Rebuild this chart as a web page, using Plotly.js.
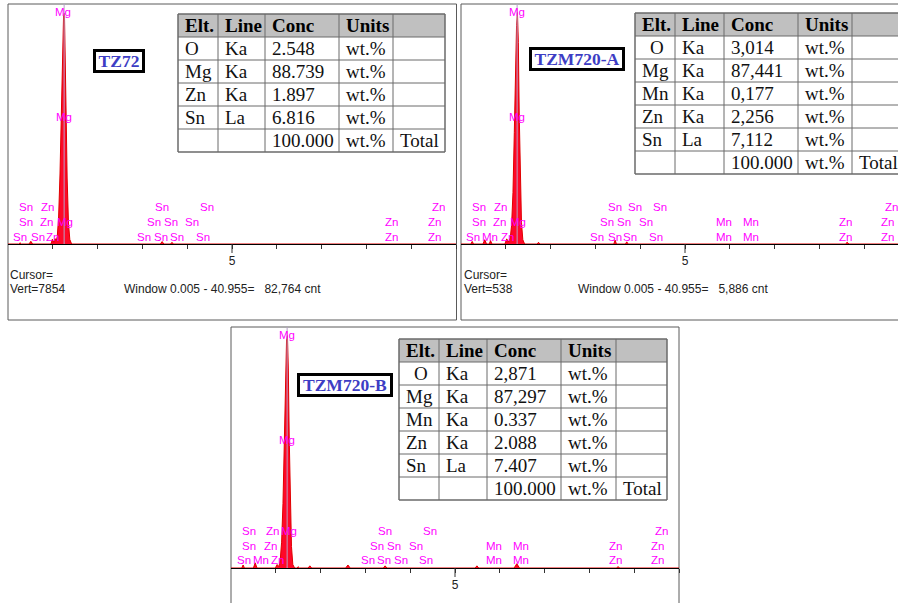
<!DOCTYPE html>
<html><head><meta charset="utf-8">
<script src="https://cdn.plot.ly/plotly-3.0.1.min.js"></script>
<style>html,body{margin:0;padding:0;background:#fff;overflow:hidden}</style>
</head><body><div id="chart" style="width:898px;height:603px"></div>
<script>
// ---------- DATA ----------
const sampleNames = ['TZ72', 'TZM720-A', 'TZM720-B'];

// spectra: energy (keV) and counts
const E1 = [0,0.24,0.27,0.30, 0.47,0.51,0.55, 0.96,0.99,1.02,1.05,1.08, 1.10,1.13,1.16,1.19,1.22,1.24,1.26,1.28,1.30,1.32,1.35,1.38,1.42, 3.40,3.44,3.48, 3.62,3.66,3.70, 10];
const C1 = [0,0,40,0,       0,90,0,          0,160,60,180,120,          250,900,2300,4300,6800,7600,7700,6400,4100,2200,700,150,0,       0,80,0,          0,50,0,          0];

const E2 = [0,0.22,0.25,0.28, 0.49,0.53,0.57, 0.63,0.66,0.69, 0.98,1.02,1.06, 1.10,1.13,1.16,1.19,1.22,1.24,1.26,1.28,1.30,1.32,1.35,1.38,1.42, 1.70,1.73,1.76, 3.41,3.44,3.47, 3.67,3.70,3.73, 8.58,8.62,8.66, 9.754];
const C2 = [0,0,6,0,          0,10,0,         0,8,0,          0,12,5,         14,45,120,260,420,510,540,470,300,160,50,10,0,                      0,4,0,          0,9,0,          0,5,0,          0,4,0,          0];

const E3 = [0,0.24,0.27,0.30, 0.50,0.54,0.58, 0.99,1.03,1.07, 1.10,1.13,1.16,1.19,1.22,1.24,1.26,1.28,1.30,1.32,1.35,1.38,1.42, 1.47,1.50,1.53, 1.72,1.76,1.80, 2.56,2.61,2.66, 3.40,3.44,3.48, 5.45,5.49,5.53, 6.32,6.38,6.44, 8.60,8.64,8.68, 10];
const C3 = [0,0,7,0,          0,12,0,         0,8,3,          20,60,150,300,470,530,540,460,300,160,50,8,0,                              0,3,0,          0,5,0,          0,7,0,          0,5,0,          0,5,0,          0,10,0,         0,3,0,          0];

const yMax = [8000, 560, 560];
const mgLine = 1.253;

// peak identification labels (text, energy keV, stacking row)
const labT1 = ['Mg','Mg','Sn','Zn','Sn','Sn','Zn','Sn','Zn','Mg','Sn','Sn','Sn','Zn','Zn','Sn','Sn','Zn','Sn','Sn','Sn','Sn','Zn','Zn'];
const labE1 = [1.23,1.25,0.40,0.89,3.44,4.44,9.60,0.40,0.87,1.27,3.26,3.64,4.11,8.57,9.51,0.27,0.67,1.00,3.04,3.42,3.77,4.35,8.57,9.51];
const labR1 = ['top','mid',0,0,0,0,0,1,1,1,1,1,1,1,1,2,2,2,2,2,2,2,2,2];

const labT2 = ['Mg','Mg','Sn','Zn','Sn','Sn','Sn','Zn','Sn','Zn','Mg','Sn','Sn','Sn','Mn','Mn','Zn','Zn','Sn','Mn','Zn','Sn','Sn','Sn','Sn','Mn','Mn','Zn','Zn'];
const labE2 = [1.25,1.25,0.40,0.89,3.44,3.88,4.44,9.60,0.40,0.87,1.27,3.26,3.64,4.13,5.87,6.47,8.59,9.53,0.27,0.65,1.03,3.04,3.44,3.77,4.35,5.87,6.47,8.59,9.53];
const labR2 = ['top','mid',0,0,0,0,0,0,1,1,1,1,1,1,1,1,1,1,2,2,2,2,2,2,2,2,2,2,2];

const labT3 = ['Mg','Mg','Sn','Zn','Mg','Sn','Sn','Zn','Sn','Zn','Sn','Sn','Sn','Mn','Mn','Zn','Zn','Sn','Mn','Zn','Sn','Sn','Sn','Sn','Mn','Mn','Zn','Zn'];
const labE3 = [1.25,1.25,0.40,0.92,1.29,3.44,4.44,9.62,0.40,0.89,3.26,3.64,4.13,5.87,6.47,8.59,9.53,0.29,0.67,1.03,3.06,3.42,3.79,4.35,5.87,6.47,8.59,9.53];
const labR3 = ['top','mid',0,0,0,0,0,0,1,1,1,1,1,1,1,1,1,2,2,2,2,2,2,2,2,2,2,2];

// quantification tables
const tabHeader = ['Elt.','Line','Conc','Units',''];
const elt1 = ['O','Mg','Zn','Sn',''];
const line1 = ['Ka','Ka','Ka','La',''];
const conc1 = ['2.548','88.739','1.897','6.816','100.000'];
const elt2 = ['O','Mg','Mn','Zn','Sn',''];
const line2 = ['Ka','Ka','Ka','Ka','La',''];
const conc2 = ['3,014','87,441','0,177','2,256','7,112','100.000'];
const elt3 = ['O','Mg','Mn','Zn','Sn',''];
const line3 = ['Ka','Ka','Ka','Ka','La',''];
const conc3 = ['2,871','87,297','0.337','2.088','7.407','100.000'];

// axis ticks
const tickVals = [1,2,3,4,5,6,7,8,9,10];
const tickText = ['','','','','5','','','','',''];

// footer texts
const cursorText = ['Cursor=', 'Cursor='];
const vertText = ['Vert=7854', 'Vert=538'];
const windowText = ['Window 0.005 - 40.955=\u00a0\u00a0\u00a082,764 cnt', 'Window 0.005 - 40.955=\u00a0\u00a0\u00a05,886 cnt'];

// ---------- LAYOUT (pixels) ----------
const W = 898, H = 603, PPK = 44.8, ROWH = 23;
const px = x => x / W, py = y => 1 - y / H;
const P = [
  {left:8,   right:456, top:4,   base:244, rows:[207,222,237], mgTop:12,  mgMid:117, frame:[8,456.5,4,320],
   table:{x0:178,y0:14}, cw:[40,47,74,54,52], centerO:false, box:{x:119,y:61,w:44}, foot:{x:8,wx:122,y1:275,y2:289}},
  {left:461, right:898, top:4,   base:244, rows:[207,222,237], mgTop:12,  mgMid:117, frame:[461,910,4,320],
   table:{x0:635,y0:13}, cw:[40,49,74,54,60], centerO:true, box:{x:577,y:59,w:88}, foot:{x:462,wx:576,y1:275,y2:289}},
  {left:231, right:679, top:327, base:568, rows:[531,546,560], mgTop:335, mgMid:440, frame:[231,679,327,615],
   table:{x0:399,y0:339}, cw:[40,48,74,55,51], centerO:true, box:{x:345,y:385,w:88}}
];
const spectra = [[E1,C1],[E2,C2],[E3,C3]];
const labels = [[labT1,labE1,labR1],[labT2,labE2,labR2],[labT3,labE3,labR3]];
const tables = [[elt1,line1,conc1],[elt2,line2,conc2],[elt3,line3,conc3]];

const traces = [], shapes = [], annotations = [];
const layout = {width:W, height:H, margin:{l:0,r:0,t:0,b:0}, paper_bgcolor:'#fff', plot_bgcolor:'rgba(0,0,0,0)',
  showlegend:false, autosize:false};
const serif = 'Liberation Serif, Times New Roman, serif';
const sans = 'Liberation Sans, Arial, sans-serif';

P.forEach((p, i) => {
  const n = i === 0 ? '' : String(i + 1);
  const xa = 'x' + n, ya = 'y' + n;
  layout['xaxis' + n] = {domain:[px(p.left), px(p.right)], range:[0, (p.right - p.left) / PPK], anchor:ya,
    showline:true, linecolor:'#000', linewidth:1, ticks:'outside', ticklen:4, tickwidth:1, tickcolor:'#333',
    tickmode:'array', tickvals:tickVals, ticktext:tickText, showgrid:false, zeroline:false, fixedrange:true,
    tickfont:{family:sans, size:12, color:'#222'}, ticklabelstandoff:2};
  layout['yaxis' + n] = {domain:[py(p.base), py(p.top)], range:[0, yMax[i]], anchor:xa, visible:false, fixedrange:true};

  const [E, C] = spectra[i];
  traces.push({type:'scatter', mode:'lines', x:E, y:C, xaxis:xa, yaxis:ya, fill:'tozeroy',
    fillcolor:'#FF0828', line:{color:'#E00000', width:1}, hoverinfo:'skip'});

  // frame
  const f = p.frame;
  shapes.push({type:'rect', xref:'paper', yref:'paper', x0:px(f[0]), x1:px(f[1]), y0:py(f[3]), y1:py(f[2]),
    line:{color:'#5a5a5a', width:1}, fillcolor:'rgba(0,0,0,0)', layer:'below'});
  // Mg marker line
  shapes.push({type:'line', xref:xa, yref:'paper', x0:mgLine, x1:mgLine, y0:py(p.base), y1:py(p.top),
    line:{color:'#B4A2C6', width:1}});
  // long tick at 5 keV
  shapes.push({type:'line', xref:xa, yref:'paper', x0:5, x1:5, y0:py(p.base), y1:py(p.base + 9),
    line:{color:'#333', width:1}});

  // peak labels
  const [T, LE, R] = labels[i];
  T.forEach((t, k) => {
    const r = R[k];
    const yy = r === 'top' ? p.mgTop : r === 'mid' ? p.mgMid : p.rows[r];
    annotations.push({text:t, x:LE[k], xref:xa, y:py(yy), yref:'paper', showarrow:false,
      xanchor:'center', yanchor:'middle', font:{family:sans, size:11.5, color:'#FF00FF'}});
  });

  // sample name box
  annotations.push({text:'<b>' + sampleNames[i] + '</b>', x:px(p.box.x), y:py(p.box.y), xref:'paper', yref:'paper',
    showarrow:false, xanchor:'center', yanchor:'middle', bgcolor:'#fff', bordercolor:'#000', borderwidth:3, borderpad:1,
    width:p.box.w, height:16, font:{family:serif, size:17.5, color:'#3d3dc4'}});

  // footer
  if (p.foot) {
    const ff = {family:sans, size:12, color:'#222'};
    annotations.push({text:cursorText[i], x:px(p.foot.x), y:py(p.foot.y1), xref:'paper', yref:'paper', showarrow:false, xanchor:'left', yanchor:'middle', font:ff});
    annotations.push({text:vertText[i], x:px(p.foot.x), y:py(p.foot.y2), xref:'paper', yref:'paper', showarrow:false, xanchor:'left', yanchor:'middle', font:ff});
    annotations.push({text:windowText[i], x:px(p.foot.wx), y:py(p.foot.y2), xref:'paper', yref:'paper', showarrow:false, xanchor:'left', yanchor:'middle', font:ff});
  }

  // table (drawn with shapes + text)
  const [el, ln, cc] = tables[i];
  const nr = el.length;
  const cols = [el, ln, cc, el.map(() => 'wt.%'), el.map((e, k) => k === nr - 1 ? 'Total' : '')];
  const t = p.table;
  const xs = [t.x0];
  p.cw.forEach(w => xs.push(xs[xs.length - 1] + w));
  const yBot = t.y0 + ROWH * (nr + 1);
  shapes.push({type:'rect', xref:'paper', yref:'paper', x0:px(xs[0]), x1:px(xs[5]), y0:py(t.y0 + ROWH), y1:py(t.y0),
    fillcolor:'#C0C0C0', line:{width:0}, layer:'below'});
  shapes.push({type:'rect', xref:'paper', yref:'paper', x0:px(xs[0]), x1:px(xs[5]), y0:py(yBot), y1:py(t.y0 + ROWH),
    fillcolor:'#fff', line:{width:0}, layer:'below'});
  for (let r = 0; r <= nr + 1; r++) {
    shapes.push({type:'line', xref:'paper', yref:'paper', x0:px(xs[0]), x1:px(xs[5]), y0:py(t.y0 + r * ROWH), y1:py(t.y0 + r * ROWH),
      line:{color:'#6a6a6a', width:(r === 0 || r === nr + 1) ? 1.5 : 1}});
  }
  xs.forEach((x, c) => {
    shapes.push({type:'line', xref:'paper', yref:'paper', x0:px(x), x1:px(x), y0:py(yBot), y1:py(t.y0),
      line:{color:'#6a6a6a', width:(c === 0 || c === 5) ? 1.5 : 1}});
  });
  tabHeader.forEach((h, c) => {
    if (!h) return;
    annotations.push({text:'<b>' + h + '</b>', x:px(xs[c] + 5), y:py(t.y0 + ROWH / 2), xref:'paper', yref:'paper',
      showarrow:false, xanchor:'left', yanchor:'middle', font:{family:serif, size:19, color:'#000'}});
  });
  cols.forEach((col, c) => {
    col.forEach((v, r) => {
      if (!v) return;
      let xx = xs[c] + 5;
      if (c === 0 && p.centerO && v === 'O') xx = xs[c] + 13;
      annotations.push({text:v, x:px(xx), y:py(t.y0 + ROWH * (r + 1) + ROWH / 2), xref:'paper', yref:'paper',
        showarrow:false, xanchor:'left', yanchor:'middle', font:{family:serif, size:19, color:'#111'}});
    });
  });
});

layout.shapes = shapes;
layout.annotations = annotations;
Plotly.newPlot('chart', traces, layout, {staticPlot:true, displayModeBar:false});
</script></body></html>
